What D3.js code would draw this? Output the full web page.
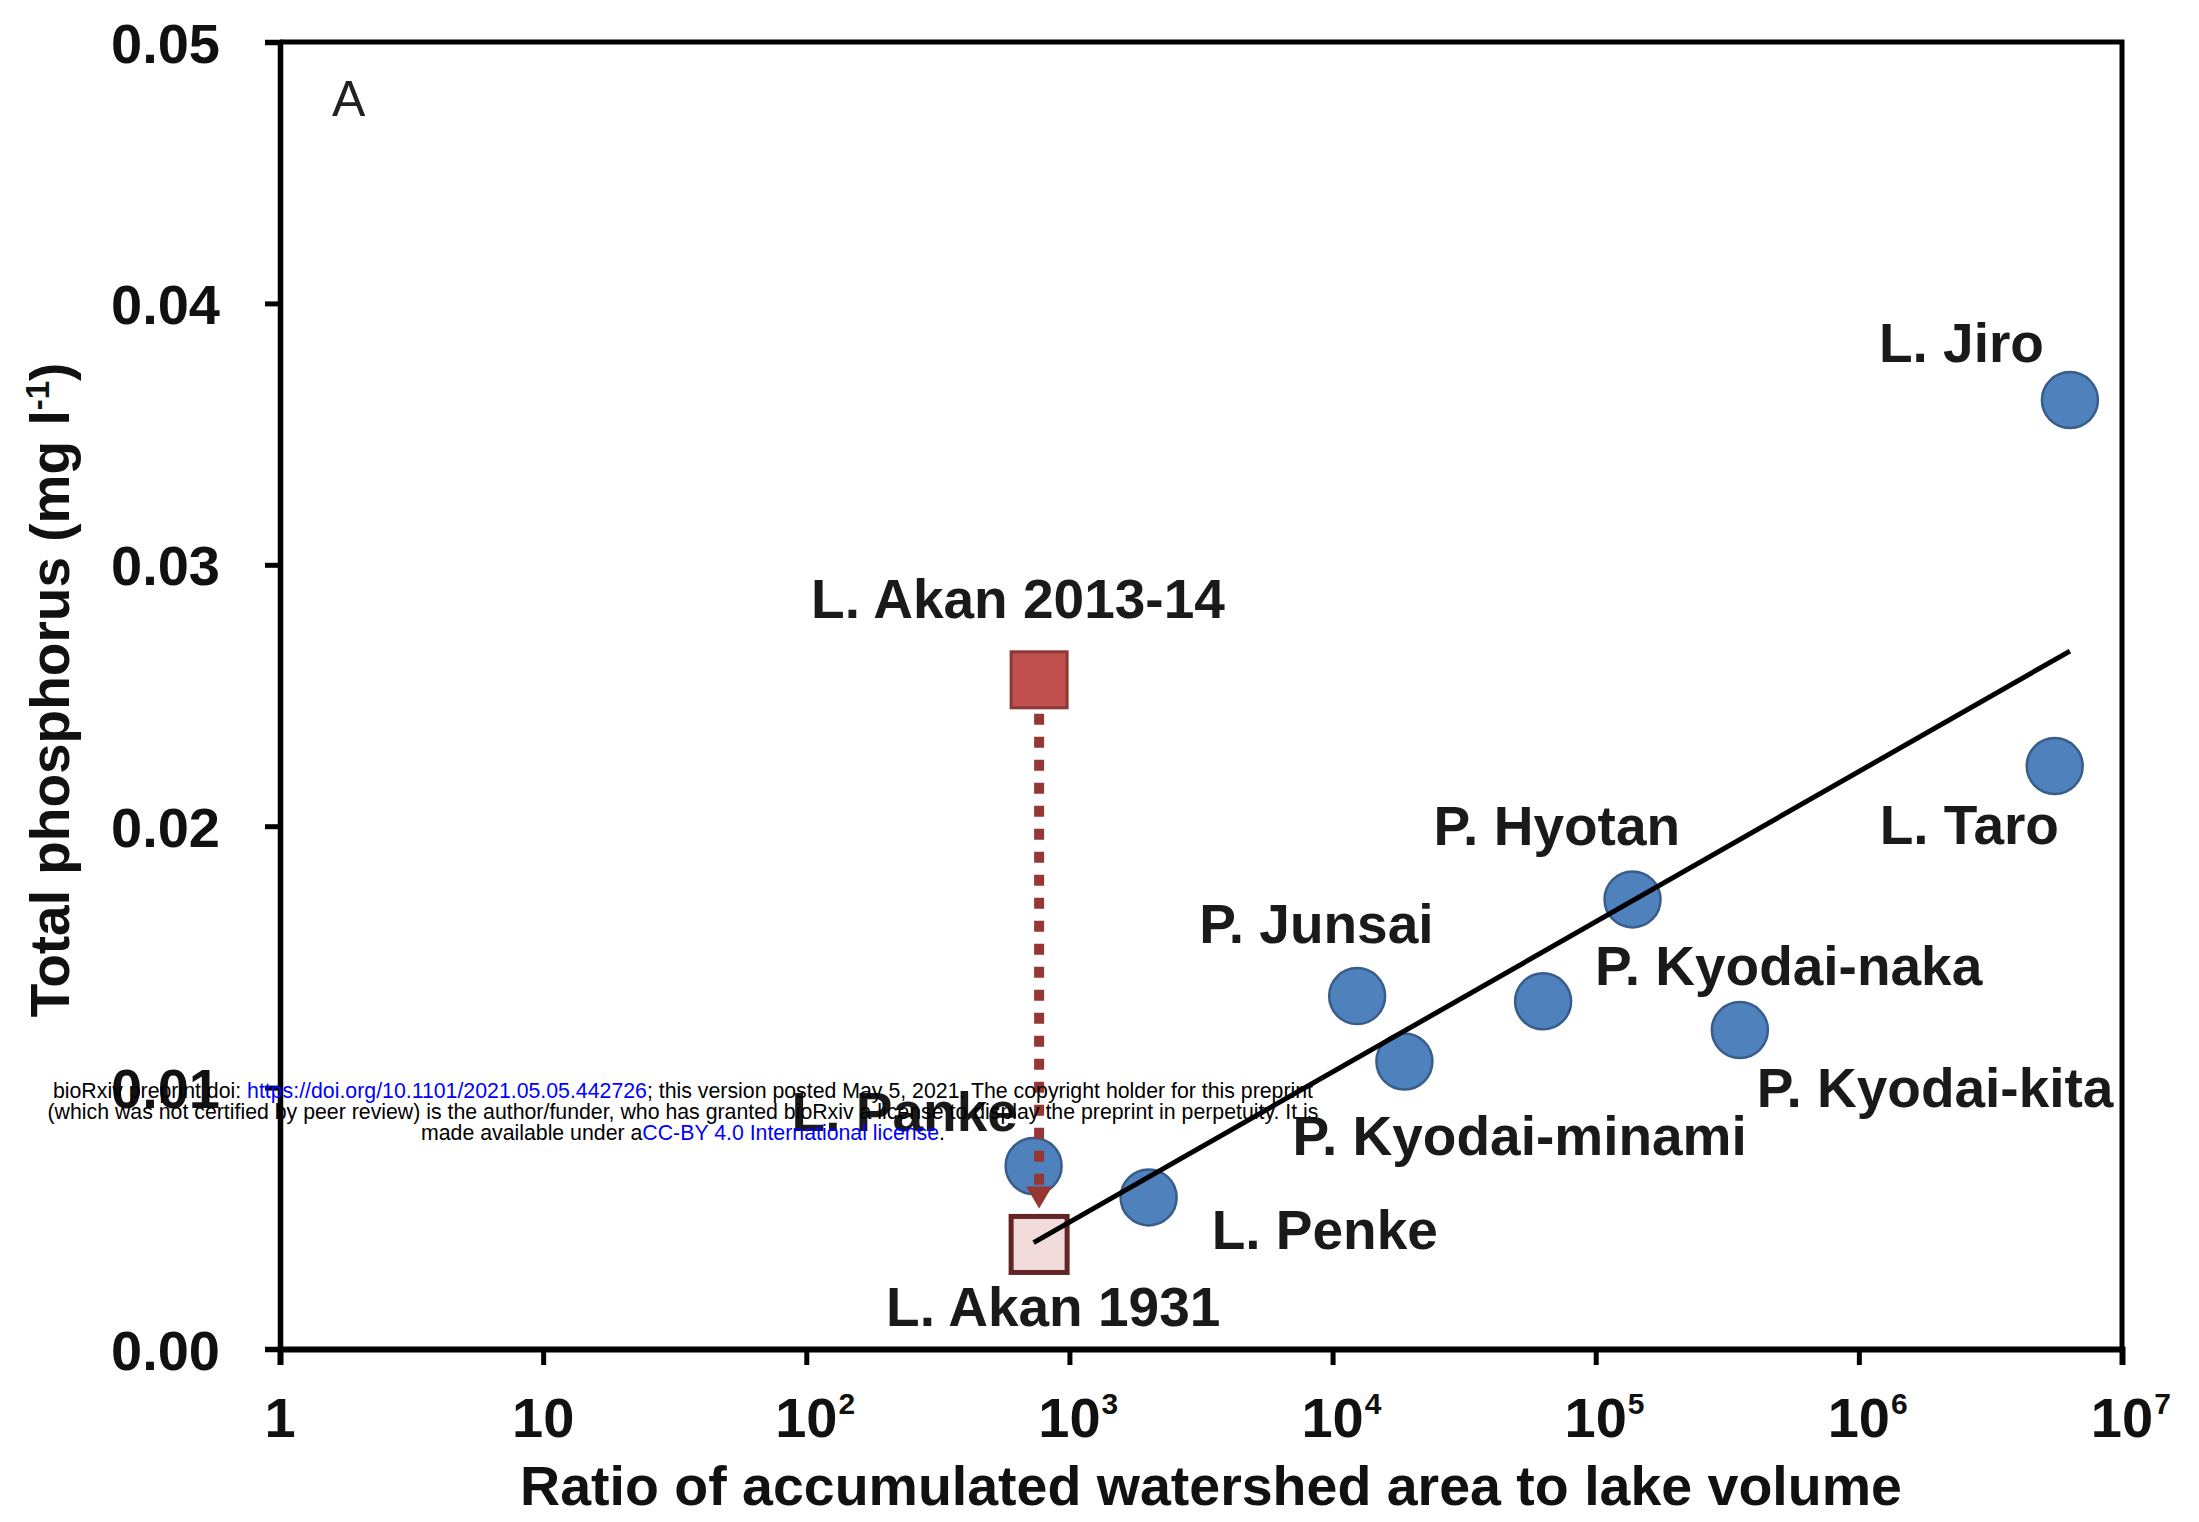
<!DOCTYPE html>
<html>
<head>
  <meta charset="utf-8">
  <title>Total phosphorus vs watershed ratio</title>
  <script src="https://d3js.org/d3.v7.min.js"></script>
  <style>
    body { margin: 0; background: #fff; }
    text { font-family: "Liberation Sans", Arial, sans-serif; }
  </style>
</head>
<body>
  <div id="chart"></div>

  <script>
    // lakes / ponds (blue circles)
    var lakes = ["L. Jiro", "L. Taro", "P. Hyotan", "P. Junsai", "P. Kyodai-naka",
                 "P. Kyodai-kita", "P. Kyodai-minami", "L. Penke", "L. Panke"];
    var lakeRatio = [6.34e6, 5.55e6, 1.38e5, 1.24e4, 6.31e4, 3.53e5, 1.875e4, 2.0e3, 731];
    var lakeTP = [0.0363, 0.0223, 0.0172, 0.0135, 0.0133, 0.0122, 0.0110, 0.0058, 0.0070];

    // Lake Akan, two periods (squares)
    var akanNames = ["L. Akan 2013-14", "L. Akan 1931"];
    var akanRatio = [767, 767];
    var akanTP = [0.0256, 0.0040];

    // regression line end points
    var fitRatio = [731, 6.34e6];
    var fitTP = [0.00407, 0.0267];

    var yTicks = [0, 0.01, 0.02, 0.03, 0.04, 0.05];
    var xTicks = [1, 10, 1e2, 1e3, 1e4, 1e5, 1e6, 1e7];
    var xTickBase = ["1", "10", "10", "10", "10", "10", "10", "10"];
    var xTickExp = ["", "", "2", "3", "4", "5", "6", "7"];

    // label offsets from each marker (px)
    var labelOffset = {
      "L. Jiro": [-191, -38], "L. Taro": [-175, 78], "P. Hyotan": [-199, -54],
      "P. Junsai": [-158, -53], "P. Kyodai-naka": [52, -16], "P. Kyodai-kita": [17, 77],
      "P. Kyodai-minami": [-112, 94], "L. Penke": [63, 52], "L. Panke": [-242, -35],
      "L. Akan 2013-14": [-228, -62], "L. Akan 1931": [-153, 82]
    };

    var W = 2199, H = 1522;
    var plotL = 280, plotR = 2122, plotT = 42, plotB = 1349;

    var svg = d3.select("#chart").append("svg")
      .attr("width", W).attr("height", H);

    var x = d3.scaleLog().domain([1, 1e7]).range([plotL, plotR]);
    var y = d3.scaleLinear().domain([0, 0.05]).range([plotB, plotT]);

    // frame (top and right)
    svg.append("path")
      .attr("d", "M" + plotL + "," + plotT + "H" + plotR + "V" + plotB)
      .attr("fill", "none").attr("stroke", "#000").attr("stroke-width", 5);

    // y axis
    var gy = svg.append("g")
      .attr("transform", "translate(" + plotL + ",0)")
      .call(d3.axisLeft(y).tickValues(yTicks).tickSize(15).tickPadding(0)
        .tickFormat(d3.format(".2f")));
    gy.select(".domain").attr("stroke-width", 5.5);
    gy.selectAll(".tick line").attr("stroke-width", 5);
    gy.selectAll(".tick text")
      .attr("x", -60).attr("dy", "0.36em")
      .attr("font-size", 56).attr("font-weight", "bold")
      .attr("font-family", "Liberation Sans, Arial, sans-serif").attr("fill", "#111");

    // x axis
    var gx = svg.append("g")
      .attr("transform", "translate(0," + plotB + ")")
      .call(d3.axisBottom(x).tickValues(xTicks).tickSize(16).tickFormat(""));
    gx.select(".domain").attr("stroke-width", 6);
    gx.selectAll(".tick line").attr("stroke-width", 5);

    xTicks.forEach(function(v, i) {
      var t = svg.append("text")
        .attr("y", 1437)
        .attr("font-size", 56).attr("font-weight", "bold").attr("fill", "#111")
        .text(xTickBase[i]);
      var w = t.node().getComputedTextLength();
      t.attr("x", x(v) - w / 2);
      if (xTickExp[i]) {
        svg.append("text")
          .attr("x", x(v) + w / 2 + 1).attr("y", 1414)
          .attr("font-size", 30).attr("font-weight", "bold").attr("fill", "#111")
          .text(xTickExp[i]);
      }
    });

    // axis titles
    svg.append("text")
      .attr("x", 1211).attr("y", 1505)
      .attr("text-anchor", "middle")
      .attr("font-size", 55.5).attr("font-weight", "bold").attr("fill", "#111")
      .text("Ratio of accumulated watershed area to lake volume");

    var yt = svg.append("text")
      .attr("transform", "translate(69,690) rotate(-90)")
      .attr("text-anchor", "middle")
      .attr("font-size", 55).attr("font-weight", "bold").attr("fill", "#111");
    yt.append("tspan").text("Total phosphorus (mg l");
    yt.append("tspan").attr("font-size", 33).attr("dy", -20).text("-1");
    yt.append("tspan").attr("dy", 20).text(")");

    // panel letter
    svg.append("text")
      .attr("x", 332).attr("y", 116)
      .attr("font-size", 50).attr("fill", "#222")
      .text("A");

    // lake points
    var lakeData = lakes.map(function(n, i) { return { name: n, r: lakeRatio[i], tp: lakeTP[i] }; });
    svg.selectAll(".lake")
      .data(lakeData)
      .enter().append("circle")
      .attr("class", "lake")
      .attr("cx", function(d) { return x(d.r); })
      .attr("cy", function(d) { return y(d.tp); })
      .attr("r", 28)
      .attr("fill", "#4f81bd")
      .attr("stroke", "#385d8a")
      .attr("stroke-width", 2.5);

    // Akan squares
    var akanData = akanNames.map(function(n, i) { return { name: n, r: akanRatio[i], tp: akanTP[i] }; });
    var sq = 56;
    svg.selectAll(".akan")
      .data(akanData)
      .enter().append("rect")
      .attr("class", "akan")
      .attr("x", function(d) { return x(d.r) - sq / 2; })
      .attr("y", function(d) { return y(d.tp) - sq / 2; })
      .attr("width", sq).attr("height", sq)
      .attr("fill", function(d, i) { return i === 0 ? "#c0504d" : "#f2dcdb"; })
      .attr("stroke", function(d, i) { return i === 0 ? "#8c3836" : "#632523"; })
      .attr("stroke-width", function(d, i) { return i === 0 ? 3 : 5; });

    // regression line
    var fit = fitRatio.map(function(r, i) { return [x(r), y(fitTP[i])]; });
    svg.append("path")
      .attr("d", d3.line()(fit))
      .attr("fill", "none").attr("stroke", "#000").attr("stroke-width", 5);

    // dotted arrow from 2013-14 down to 1931
    var ax = x(akanRatio[0]);
    var y0 = y(akanTP[0]) + sq / 2 + 6;
    var y1 = y(akanTP[1]) - sq / 2 - 8;
    svg.append("line")
      .attr("x1", ax).attr("x2", ax)
      .attr("y1", y0).attr("y2", y1 - 18)
      .attr("stroke", "#953735").attr("stroke-width", 10)
      .attr("stroke-dasharray", "11,12");
    svg.append("path")
      .attr("d", "M" + (ax - 13) + "," + (y1 - 22) + "L" + (ax + 13) + "," + (y1 - 22) + "L" + ax + "," + y1 + "Z")
      .attr("fill", "#953735");

    // labels
    var allData = lakeData.concat(akanData);
    svg.selectAll(".lbl")
      .data(allData)
      .enter().append("text")
      .attr("class", "lbl")
      .attr("x", function(d) { return x(d.r) + labelOffset[d.name][0]; })
      .attr("y", function(d) { return y(d.tp) + labelOffset[d.name][1]; })
      .attr("font-size", 55).attr("font-weight", "bold").attr("fill", "#1a1a1a")
      .text(function(d) { return d.name; });

    // preprint notice
    var note = svg.append("g").attr("font-size", 21.3).attr("text-anchor", "middle").attr("fill", "#000");
    var l1 = note.append("text").attr("x", 683).attr("y", 1098);
    l1.append("tspan").text("bioRxiv preprint doi: ");
    l1.append("tspan").attr("fill", "#0000ff").text("https://doi.org/10.1101/2021.05.05.442726");
    l1.append("tspan").text("; this version posted May 5, 2021. The copyright holder for this preprint");
    note.append("text").attr("x", 683).attr("y", 1119)
      .text("(which was not certified by peer review) is the author/funder, who has granted bioRxiv a license to display the preprint in perpetuity. It is");
    var l3 = note.append("text").attr("x", 683).attr("y", 1140);
    l3.append("tspan").text("made available under a");
    l3.append("tspan").attr("fill", "#0000ff").text("CC-BY 4.0 International license");
    l3.append("tspan").text(".");
  </script>
</body>
</html>
